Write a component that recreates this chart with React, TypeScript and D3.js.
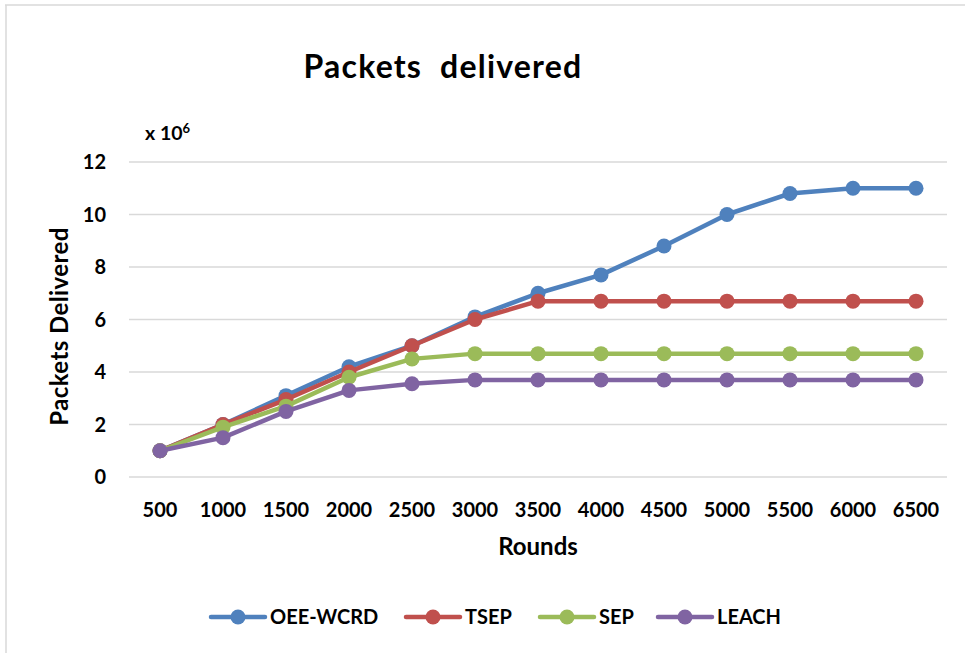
import React from "react";
import * as d3 from "d3";

const rounds = ["500", "1000", "1500", "2000", "2500", "3000", "3500", "4000", "4500", "5000", "5500", "6000", "6500"];
const oeeWcrd = [1, 2, 3.1, 4.2, 5, 6.1, 7, 7.7, 8.8, 10, 10.8, 11, 11];
const tsep = [1, 2, 2.95, 4, 5, 6, 6.7, 6.7, 6.7, 6.7, 6.7, 6.7, 6.7];
const sep = [1, 1.9, 2.7, 3.8, 4.5, 4.7, 4.7, 4.7, 4.7, 4.7, 4.7, 4.7, 4.7];
const leach = [1, 1.5, 2.5, 3.3, 3.55, 3.7, 3.7, 3.7, 3.7, 3.7, 3.7, 3.7, 3.7];
const yTicks = [0, 2, 4, 6, 8, 10, 12];
const seriesNames = ["OEE-WCRD", "TSEP", "SEP", "LEACH"];
const seriesColors = ["#4f81bd", "#c0504d", "#9bbb59", "#8064a2"];

const W = 965;
const H = 653;
const FONT = "Lato, 'Open Sans', sans-serif";

export default function App() {
  const seriesData = [oeeWcrd, tsep, sep, leach];
  const x = d3.scalePoint<string>().domain(rounds).range([160, 916]);
  const y = d3.scaleLinear().domain([0, 12]).range([477, 162]);
  const line = d3
    .line<number>()
    .x((_, i) => x(rounds[i]) as number)
    .y((d) => y(d));

  const legendX = [211, 406, 540, 658];

  return (
    <svg
      width={W}
      height={H}
      style={{ position: "absolute", left: 0, top: 0, fontFamily: FONT }}
    >
      <rect x={0} y={0} width={W} height={H} fill="#fff" />
      <line x1={5} y1={5} x2={W} y2={5} stroke="#d9d9d9" strokeWidth={1.5} />
      <line x1={6} y1={5} x2={6} y2={H} stroke="#d9d9d9" strokeWidth={1.5} />

      <text x={443} y={78} textAnchor="middle" fontWeight="bold" fontSize={32} letterSpacing={1.2} fill="#000">
        Packets{"\u00a0\u00a0"}delivered
      </text>

      <text x={145} y={140} fontWeight="bold" fontSize={19.5} fill="#000">
        x 10<tspan dy={-7} fontSize={13}>6</tspan>
      </text>

      {yTicks.map((t) => (
        <g key={t}>
          <line x1={129} x2={947} y1={y(t)} y2={y(t)} stroke="#d9d9d9" strokeWidth={1.5} />
          <text x={106} y={y(t)} dy="0.35em" textAnchor="end" fontWeight="bold" fontSize={20} fill="#000">
            {t}
          </text>
        </g>
      ))}

      {rounds.map((r) => (
        <text key={r} x={x(r)} y={517} textAnchor="middle" fontWeight="bold" fontSize={20} fill="#000">
          {r}
        </text>
      ))}

      <text x={538} y={555} textAnchor="middle" fontWeight="bold" fontSize={24} fill="#000">
        Rounds
      </text>
      <text
        transform={`translate(68,${(223 + 430) / 2}) rotate(-90)`}
        textAnchor="middle"
        fontWeight="bold"
        fontSize={24}
        letterSpacing={0.4}
        fill="#000"
      >
        Packets Delivered
      </text>

      {seriesData.map((s, si) => (
        <g key={seriesNames[si]}>
          <path d={line(s) as string} fill="none" stroke={seriesColors[si]} strokeWidth={4.5} strokeLinejoin="round" />
          {s.map((v, i) => (
            <circle key={i} cx={x(rounds[i])} cy={y(v)} r={7.5} fill={seriesColors[si]} />
          ))}
        </g>
      ))}

      {seriesNames.map((n, si) => (
        <g key={n} transform={`translate(${legendX[si]},617)`}>
          <line x1={0} x2={54} y1={0} y2={0} stroke={seriesColors[si]} strokeWidth={4.5} strokeLinecap="round" />
          <circle cx={27} cy={0} r={7.5} fill={seriesColors[si]} />
          <text x={59} y={0} dy="0.36em" fontWeight="bold" fontSize={20} fill="#000">
            {n}
          </text>
        </g>
      ))}
    </svg>
  );
}
